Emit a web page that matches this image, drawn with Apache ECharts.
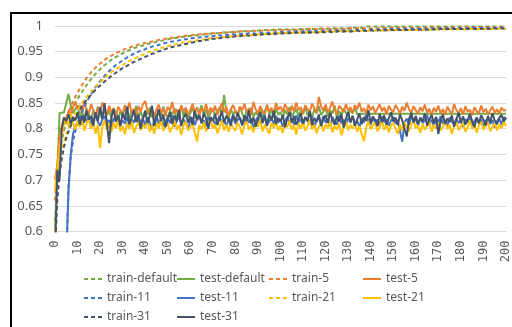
<!DOCTYPE html>
<html>
<head>
<meta charset="utf-8">
<script src="https://cdn.jsdelivr.net/npm/echarts@6/dist/echarts.min.js"></script>
<style>html,body{margin:0;padding:0;background:#fff}#c{width:512px;height:327px}</style>
</head>
<body>
<div id="c"></div>
<script>
const seriesNames = ['train-default','test-default','train-5','test-5','train-11','test-11','train-21','test-21','train-31','test-31'];
const colors = ['#70AD47','#70AD47','#ED7D31','#ED7D31','#4472C4','#4472C4','#FFC000','#FFC000','#44546A','#44546A'];
const yTicks = [0.6,0.65,0.7,0.75,0.8,0.85,0.9,0.95,1];

const trainDefault = [0.620,0.700,0.748,0.776,0.797,0.812,0.824,0.834,0.843,0.851,
0.858,0.865,0.872,0.879,0.885,0.891,0.897,0.902,0.907,0.911,
0.916,0.920,0.924,0.927,0.931,0.934,0.937,0.940,0.942,0.945,
0.947,0.949,0.951,0.953,0.955,0.957,0.958,0.960,0.961,0.962,
0.964,0.965,0.966,0.967,0.968,0.969,0.970,0.971,0.972,0.973,
0.974,0.975,0.975,0.976,0.977,0.978,0.978,0.979,0.980,0.980,
0.981,0.981,0.982,0.982,0.983,0.983,0.984,0.984,0.985,0.985,
0.986,0.986,0.986,0.987,0.987,0.988,0.987,0.988,0.988,0.989,
0.989,0.989,0.990,0.989,0.990,0.990,0.991,0.990,0.991,0.991,
0.991,0.992,0.991,0.992,0.992,0.991,0.992,0.993,0.992,0.993,
0.993,0.992,0.993,0.993,0.994,0.993,0.993,0.994,0.993,0.994,
0.994,0.993,0.994,0.995,0.994,0.994,0.995,0.994,0.995,0.995,
0.994,0.995,0.995,0.996,0.995,0.995,0.996,0.995,0.996,0.996,
0.995,0.996,0.996,0.997,0.996,0.996,0.997,0.996,
0.999,0.999,0.999,0.999,0.999,0.999,0.999,0.999,0.999,0.999,0.999,0.999,
0.999,0.999,0.999,0.999,0.999,0.999,0.999,0.999,0.999,0.999,0.999,0.999,
0.999,0.999,0.999,0.999,0.999,0.999,0.999,0.999,0.999,0.999,0.999,0.999,
0.999,0.999,0.999,0.999,0.999,0.999,0.999,0.999,0.999,0.999,0.999,0.999,
0.999,0.999,0.999,0.999,0.999,0.999,0.999,0.999,0.999,0.999,0.999,0.999,
0.999,0.999,0.999];

const testDefault = [0.600,0.700,0.830,0.831,0.832,0.850,0.868,0.845,0.830,0.838,
0.846,0.825,0.834,0.820,0.839,0.828,0.815,0.836,0.824,0.843,
0.830,0.818,0.838,0.826,0.835,0.821,0.840,0.829,0.817,0.834,
0.825,0.842,0.831,0.819,0.837,0.827,0.845,0.823,0.833,0.820,
0.836,0.828,0.841,0.822,0.831,0.818,0.838,0.826,0.843,0.829,
0.821,0.835,0.827,0.840,0.819,0.832,0.844,0.825,0.836,0.823,
0.830,0.841,0.826,0.818,0.834,0.846,0.828,0.837,0.822,0.831,
0.839,0.825,0.833,0.842,0.829,0.866,0.831,0.820,0.838,0.827,
0.835,0.824,0.843,0.830,0.819,0.836,0.828,0.841,0.823,0.832,
0.826,0.838,0.821,0.834,0.845,0.829,0.836,0.822,0.840,0.827,
0.833,0.820,0.837,0.828,0.842,0.825,0.831,0.839,0.824,0.835,
0.829,0.843,0.826,0.834,0.821,0.838,0.830,0.844,0.827,0.833,
0.840,0.824,0.836,0.829,0.845,0.822,0.834,0.827,0.839,0.831,
0.825,0.837,0.830,0.842,0.828,
0.829,0.829,0.829,0.829,0.829,0.829,0.829,0.829,0.829,0.829,0.829,
0.829,0.829,0.829,0.829,0.829,0.829,0.829,0.829,0.829,0.829,0.829,
0.829,0.829,0.829,0.829,0.829,0.829,0.829,0.829,0.829,0.829,0.829,
0.829,0.829,0.829,0.829,0.829,0.829,0.829,0.829,0.829,0.829,0.829,
0.829,0.829,0.829,0.829,0.829,0.829,0.829,0.829,0.829,0.829,0.829,
0.829,0.829,0.829,0.829,0.829,0.829,0.829,0.829,0.829,0.829,0.829];

const train5 = [0.660,0.722,0.761,0.786,0.806,0.821,0.833,0.844,0.853,0.862,
0.870,0.878,0.885,0.892,0.899,0.904,0.910,0.914,0.919,0.923,
0.927,0.930,0.934,0.937,0.939,0.942,0.945,0.947,0.949,0.951,
0.953,0.955,0.957,0.958,0.960,0.961,0.962,0.964,0.965,0.966,
0.967,0.968,0.969,0.970,0.971,0.972,0.973,0.973,0.974,0.975,
0.976,0.977,0.977,0.978,0.978,0.979,0.980,0.980,0.981,0.981,
0.982,0.982,0.983,0.983,0.984,0.984,0.984,0.985,0.985,0.986,
0.986,0.986,0.987,0.986,0.987,0.988,0.987,0.988,0.988,0.989,
0.988,0.989,0.989,0.990,0.989,0.990,0.990,0.989,0.991,0.990,
0.991,0.990,0.991,0.991,0.992,0.991,0.992,0.991,0.992,0.992,
0.993,0.992,0.992,0.993,0.992,0.993,0.993,0.992,0.994,0.993,
0.993,0.994,0.993,0.994,0.993,0.994,0.994,0.993,0.995,0.994,
0.994,0.995,0.994,0.994,0.995,0.994,0.995,0.995,0.994,0.995,
0.995,0.996,0.995,0.995,0.996,0.995,0.996,0.995,0.996,0.996,
0.995,0.996,0.996,0.995,0.996,0.997,0.996,0.996,0.995,0.996,
0.997,0.996,0.996,0.997,0.996,0.997,0.996,0.997,0.997,0.996,
0.997,0.996,0.997,0.997,0.996,0.997,0.997,0.998,0.997,0.996,
0.997,0.997,0.998,0.997,0.997,0.996,0.997,0.998,0.997,0.997,
0.998,0.997,0.997,0.998,0.997,0.997,0.998,0.997,0.998,0.997,
0.997,0.998,0.997,0.998,0.998,0.997,0.998,0.997,0.998,0.998,
0.997];

const test5 = [0.700,0.730,0.785,0.805,0.822,0.818,0.835,0.828,0.842,0.852,
0.838,0.846,0.830,0.855,0.834,0.829,0.848,0.836,0.822,0.840,
0.833,0.851,0.838,0.826,0.845,0.832,0.840,0.822,0.843,0.836,
0.828,0.846,0.834,0.851,0.830,0.839,0.825,0.844,0.833,0.848,
0.854,0.836,0.829,0.842,0.823,0.838,0.847,0.831,0.840,0.826,
0.843,0.835,0.852,0.829,0.838,0.824,0.846,0.833,0.841,0.828,
0.837,0.849,0.831,0.842,0.826,0.839,0.834,0.848,0.829,0.841,
0.833,0.845,0.827,0.838,0.850,0.832,0.842,0.825,0.839,0.846,
0.834,0.828,0.843,0.836,0.849,0.831,0.840,0.827,0.852,0.838,
0.830,0.844,0.835,0.826,0.847,0.833,0.841,0.829,0.850,0.837,
0.843,0.832,0.848,0.839,0.827,0.845,0.834,0.851,0.836,0.842,
0.829,0.846,0.838,0.833,0.849,0.840,0.831,0.862,0.844,0.835,
0.847,0.832,0.841,0.853,0.836,0.828,0.845,0.839,0.832,0.848,
0.835,0.842,0.830,0.846,0.838,0.851,0.833,0.840,0.829,0.847,
0.836,0.844,0.831,0.839,0.848,0.834,0.842,0.828,0.845,0.837,
0.832,0.846,0.839,0.829,0.843,0.835,0.851,0.838,0.831,0.844,
0.836,0.829,0.842,0.834,0.847,0.831,0.839,0.826,0.841,0.833,
0.845,0.830,0.838,0.827,0.843,0.835,0.829,0.848,0.836,0.831,
0.840,0.828,0.844,0.833,0.837,0.826,0.842,0.834,0.830,0.845,
0.832,0.839,0.828,0.836,0.843,0.831,0.838,0.829,0.841,0.835,
0.837];

const train11 = [0.400,0.450,0.480,0.510,0.530,0.550,0.690,0.745,0.775,0.795,
0.810,0.822,0.833,0.843,0.852,0.860,0.867,0.874,0.881,0.887,
0.893,0.898,0.903,0.908,0.912,0.916,0.920,0.924,0.927,0.930,
0.933,0.936,0.939,0.941,0.944,0.946,0.948,0.950,0.952,0.953,
0.955,0.957,0.958,0.960,0.961,0.962,0.963,0.965,0.966,0.967,
0.968,0.969,0.970,0.970,0.971,0.972,0.973,0.974,0.974,0.975,
0.976,0.976,0.977,0.977,0.978,0.978,0.979,0.979,0.980,0.980,
0.980,0.981,0.981,0.982,0.981,0.982,0.983,0.982,0.983,0.984,
0.983,0.984,0.984,0.985,0.984,0.985,0.986,0.985,0.986,0.985,
0.986,0.987,0.986,0.987,0.987,0.986,0.988,0.987,0.988,0.987,
0.988,0.989,0.988,0.988,0.989,0.988,0.989,0.990,0.989,0.989,
0.990,0.989,0.990,0.990,0.989,0.991,0.990,0.990,0.991,0.990,
0.991,0.990,0.991,0.991,0.992,0.991,0.991,0.992,0.991,0.992,
0.992,0.991,0.992,0.993,0.992,0.992,0.993,0.992,0.993,0.992,
0.993,0.993,0.992,0.993,0.994,0.993,0.993,0.994,0.993,0.994,
0.993,0.994,0.994,0.993,0.994,0.995,0.994,0.994,0.995,0.994,
0.994,0.995,0.994,0.995,0.995,0.994,0.995,0.996,0.995,0.995,
0.995,0.996,0.995,0.995,0.996,0.995,0.996,0.995,0.996,0.996,
0.995,0.996,0.996,0.995,0.996,0.997,0.996,0.996,0.995,0.996,
0.997,0.996,0.996,0.997,0.996,0.996,0.997,0.996,0.997,0.996,
0.997];

const test11 = [0.400,0.450,0.480,0.500,0.520,0.550,0.680,0.750,0.790,0.805,
0.812,0.820,0.808,0.826,0.815,0.822,0.809,0.818,0.827,0.813,
0.806,0.819,0.824,0.811,0.817,0.803,0.821,0.814,0.825,0.808,
0.816,0.810,0.823,0.805,0.818,0.812,0.826,0.809,0.815,0.820,
0.807,0.822,0.813,0.798,0.817,0.824,0.810,0.819,0.806,0.815,
0.821,0.811,0.826,0.804,0.816,0.823,0.809,0.818,0.812,0.800,
0.815,0.822,0.807,0.819,0.826,0.811,0.817,0.805,0.823,0.814,
0.820,0.808,0.816,0.825,0.811,0.818,0.803,0.821,0.813,0.827,
0.809,0.817,0.822,0.806,0.815,0.824,0.812,0.819,0.801,0.816,
0.823,0.810,0.818,0.827,0.807,0.814,0.821,0.809,0.825,0.812,
0.818,0.804,0.816,0.823,0.811,0.820,0.808,0.826,0.813,0.819,
0.806,0.822,0.815,0.810,0.824,0.802,0.817,0.821,0.809,0.825,
0.812,0.819,0.805,0.823,0.814,0.808,0.826,0.811,0.818,0.807,
0.821,0.813,0.825,0.809,0.816,0.803,0.820,0.812,0.827,0.815,
0.808,0.822,0.811,0.818,0.805,0.824,0.813,0.819,0.806,0.816,
0.823,0.810,0.817,0.795,0.775,0.812,0.820,0.808,0.825,0.814,
0.819,0.806,0.822,0.811,0.816,0.827,0.809,0.818,0.804,0.821,
0.813,0.824,0.810,0.817,0.806,0.822,0.814,0.808,0.820,0.811,
0.816,0.803,0.819,0.812,0.825,0.807,0.815,0.821,0.810,0.818,
0.805,0.814,0.822,0.809,0.817,0.802,0.815,0.820,0.808,0.823,
0.818];

const train21 = [0.600,0.680,0.725,0.755,0.775,0.790,0.802,0.812,0.821,0.829,
0.836,0.843,0.850,0.856,0.862,0.867,0.872,0.877,0.882,0.887,
0.891,0.895,0.899,0.903,0.906,0.910,0.913,0.916,0.919,0.922,
0.924,0.927,0.929,0.932,0.934,0.936,0.938,0.940,0.942,0.944,
0.946,0.948,0.950,0.951,0.953,0.954,0.956,0.957,0.958,0.960,
0.961,0.962,0.963,0.964,0.965,0.966,0.967,0.968,0.969,0.969,
0.970,0.971,0.971,0.972,0.973,0.973,0.974,0.975,0.975,0.976,
0.976,0.977,0.977,0.978,0.978,0.979,0.978,0.979,0.980,0.980,
0.980,0.981,0.981,0.982,0.981,0.982,0.983,0.982,0.983,0.984,
0.984,0.983,0.984,0.985,0.984,0.985,0.985,0.986,0.985,0.986,
0.986,0.987,0.986,0.987,0.987,0.986,0.988,0.987,0.987,0.988,
0.988,0.987,0.988,0.989,0.988,0.988,0.989,0.988,0.989,0.989,
0.989,0.990,0.989,0.989,0.990,0.989,0.990,0.990,0.989,0.990,
0.990,0.991,0.990,0.990,0.991,0.990,0.991,0.991,0.990,0.991,
0.991,0.990,0.991,0.992,0.991,0.991,0.992,0.991,0.992,0.991,
0.991,0.992,0.992,0.991,0.992,0.992,0.993,0.992,0.992,0.993,
0.992,0.992,0.993,0.992,0.993,0.993,0.992,0.993,0.993,0.994,
0.993,0.993,0.994,0.993,0.993,0.994,0.993,0.994,0.994,0.993,
0.994,0.994,0.993,0.994,0.995,0.994,0.994,0.993,0.994,0.995,
0.994,0.994,0.995,0.994,0.994,0.995,0.994,0.995,0.994,0.995,
0.994];

const test21 = [0.680,0.720,0.760,0.790,0.810,0.822,0.805,0.830,0.812,0.798,
0.815,0.803,0.822,0.796,0.810,0.818,0.800,0.812,0.790,0.808,
0.762,0.805,0.816,0.798,0.810,0.793,0.812,0.801,0.818,0.795,
0.806,0.789,0.811,0.799,0.815,0.792,0.804,0.813,0.797,0.808,
0.801,0.816,0.794,0.807,0.790,0.812,0.800,0.817,0.796,0.805,
0.811,0.793,0.803,0.815,0.798,0.808,0.788,0.806,0.814,0.797,
0.803,0.810,0.792,0.775,0.807,0.799,0.813,0.795,0.806,0.818,
0.800,0.809,0.791,0.804,0.816,0.797,0.808,0.794,0.811,0.802,
0.796,0.812,0.803,0.789,0.807,0.815,0.798,0.806,0.793,0.810,
0.804,0.817,0.795,0.808,0.800,0.790,0.812,0.801,0.814,0.797,
0.806,0.792,0.810,0.803,0.816,0.798,0.807,0.789,0.811,0.800,
0.813,0.796,0.805,0.818,0.799,0.808,0.791,0.804,0.812,0.795,
0.809,0.801,0.815,0.793,0.806,0.798,0.811,0.787,0.803,0.814,
0.797,0.808,0.800,0.812,0.794,0.805,0.790,0.776,0.802,0.815,
0.799,0.807,0.812,0.795,0.804,0.816,0.798,0.809,0.793,0.806,
0.811,0.800,0.790,0.808,0.797,0.813,0.803,0.795,0.809,0.817,
0.801,0.807,0.792,0.810,0.798,0.805,0.815,0.794,0.808,0.800,
0.812,0.796,0.804,0.817,0.799,0.808,0.790,0.806,0.813,0.797,
0.805,0.811,0.794,0.803,0.816,0.800,0.809,0.792,0.807,0.814,
0.798,0.806,0.812,0.795,0.804,0.810,0.797,0.808,0.801,0.813,
0.805];

const train31 = [0.560,0.660,0.710,0.742,0.765,0.782,0.795,0.806,0.815,0.823,
0.830,0.837,0.844,0.850,0.856,0.861,0.866,0.871,0.876,0.880,
0.884,0.888,0.892,0.896,0.899,0.903,0.906,0.909,0.912,0.915,
0.918,0.920,0.923,0.925,0.928,0.930,0.932,0.934,0.936,0.938,
0.940,0.942,0.944,0.946,0.947,0.949,0.951,0.952,0.954,0.955,
0.957,0.958,0.959,0.960,0.961,0.962,0.963,0.964,0.965,0.966,
0.967,0.968,0.969,0.970,0.971,0.971,0.972,0.973,0.973,0.974,
0.975,0.975,0.976,0.976,0.977,0.977,0.978,0.978,0.979,0.979,
0.980,0.980,0.980,0.981,0.981,0.982,0.981,0.982,0.983,0.982,
0.983,0.983,0.984,0.983,0.984,0.984,0.985,0.984,0.985,0.985,
0.985,0.986,0.985,0.986,0.986,0.987,0.986,0.987,0.987,0.986,
0.987,0.988,0.987,0.987,0.988,0.988,0.987,0.988,0.989,0.988,
0.988,0.989,0.989,0.988,0.989,0.989,0.990,0.989,0.989,0.990,
0.990,0.989,0.990,0.990,0.991,0.990,0.990,0.991,0.990,0.991,
0.991,0.991,0.990,0.991,0.992,0.991,0.991,0.992,0.991,0.992,
0.992,0.991,0.992,0.992,0.993,0.992,0.992,0.993,0.992,0.993,
0.993,0.992,0.993,0.993,0.992,0.993,0.994,0.993,0.993,0.994,
0.993,0.994,0.994,0.993,0.994,0.994,0.995,0.994,0.994,0.995,
0.994,0.994,0.995,0.994,0.995,0.995,0.994,0.995,0.995,0.994,
0.995,0.995,0.994,0.995,0.996,0.995,0.995,0.996,0.995,0.995,
0.996];

const test31 = [0.550,0.720,0.700,0.800,0.822,0.815,0.828,0.810,0.823,0.816,
0.830,0.808,0.826,0.812,0.835,0.818,0.825,0.806,0.832,0.815,
0.842,0.820,0.850,0.811,0.772,0.823,0.838,0.814,0.826,0.805,
0.831,0.817,0.843,0.809,0.822,0.836,0.813,0.827,0.800,0.819,
0.834,0.811,0.825,0.845,0.806,0.821,0.838,0.815,0.828,0.803,
0.818,0.832,0.809,0.826,0.814,0.837,0.805,0.822,0.829,0.812,
0.824,0.808,0.835,0.817,0.826,0.811,0.831,0.820,0.800,0.823,
0.815,0.829,0.807,0.821,0.834,0.812,0.825,0.818,0.806,0.827,
0.813,0.831,0.820,0.809,0.826,0.815,0.836,0.810,0.822,0.804,
0.819,0.832,0.811,0.824,0.806,0.828,0.816,0.835,0.809,0.821,
0.814,0.827,0.803,0.820,0.832,0.812,0.825,0.808,0.818,0.830,
0.810,0.823,0.815,0.834,0.807,0.821,0.813,0.828,0.805,0.819,
0.826,0.811,0.831,0.817,0.808,0.824,0.814,0.829,0.802,0.820,
0.833,0.812,0.825,0.806,0.818,0.830,0.809,0.823,0.815,0.836,
0.811,0.824,0.817,0.805,0.829,0.813,0.826,0.808,0.820,0.832,
0.814,0.822,0.807,0.828,0.816,0.800,0.785,0.819,0.831,0.812,
0.825,0.809,0.821,0.814,0.830,0.806,0.818,0.827,0.811,0.823,
0.790,0.815,0.828,0.809,0.820,0.813,0.826,0.804,0.819,0.831,
0.812,0.824,0.808,0.817,0.829,0.815,0.803,0.822,0.811,0.826,
0.818,0.807,0.825,0.813,0.830,0.816,0.809,0.821,0.827,0.814,
0.822];

const allData = [trainDefault,testDefault,train5,test5,train11,test11,train21,test21,train31,test31];

const chart = echarts.init(document.getElementById('c'), null, {renderer:'canvas'});
const series = seriesNames.map((name, k) => ({
  name: name,
  type: 'line',
  symbol: 'none',
  clip: true,
  data: allData[k].map((v, i) => [i, v]),
  lineStyle: {
    color: colors[k],
    width: 2,
    type: name.startsWith('train') ? [4, 3] : 'solid'
  },
  itemStyle: {color: colors[k]}
}));

const legendBase = {
  orient: 'vertical',
  itemWidth: 18,
  itemHeight: 12,
  itemGap: 7,
  itemStyle: {opacity: 0},
  textStyle: {color: '#595959', fontSize: 12, fontFamily: 'Noto Sans'},
  padding: 0
};
const cols = [
  {left: 83, data: ['train-default','train-11','train-31']},
  {left: 176, data: ['test-default','test-11','test-31']},
  {left: 268, data: ['train-5','train-21']},
  {left: 362, data: ['test-5','test-21']}
];

chart.setOption({
  animation: false,
  backgroundColor: '#fff',
  grid: {left: 55, right: 3, top: 26, bottom: 95.5, containLabel: false},
  xAxis: {
    type: 'value', min: 0, max: 200, interval: 10,
    axisLine: {show: true, lineStyle: {color: '#d9d9d9', width: 1}},
    axisTick: {show: false},
    splitLine: {show: false},
    axisLabel: {rotate: 90, margin: 9, color: '#595959', fontSize: 12, fontFamily: 'DejaVu Sans Mono', showMaxLabel: true, showMinLabel: true}
  },
  yAxis: {
    type: 'value', min: yTicks[0], max: yTicks[yTicks.length-1], interval: 0.05,
    axisLine: {show: false},
    axisTick: {show: false},
    splitLine: {show: true, lineStyle: {color: '#d9d9d9', width: 1}},
    axisLabel: {margin: 12, color: '#595959', fontSize: 13, fontFamily: 'Noto Sans',
      formatter: v => String(parseFloat(v.toFixed(2)))}
  },
  legend: cols.map(c => Object.assign({}, legendBase, {left: c.left, top: 273, data: c.data})),
  graphic: [{
    type: 'rect', z: 100, silent: true,
    shape: {x: 11, y: 13, width: 700, height: 500},
    style: {fill: 'none', stroke: '#000', lineWidth: 2}
  }],
  series: series
});
</script>
</body>
</html>
